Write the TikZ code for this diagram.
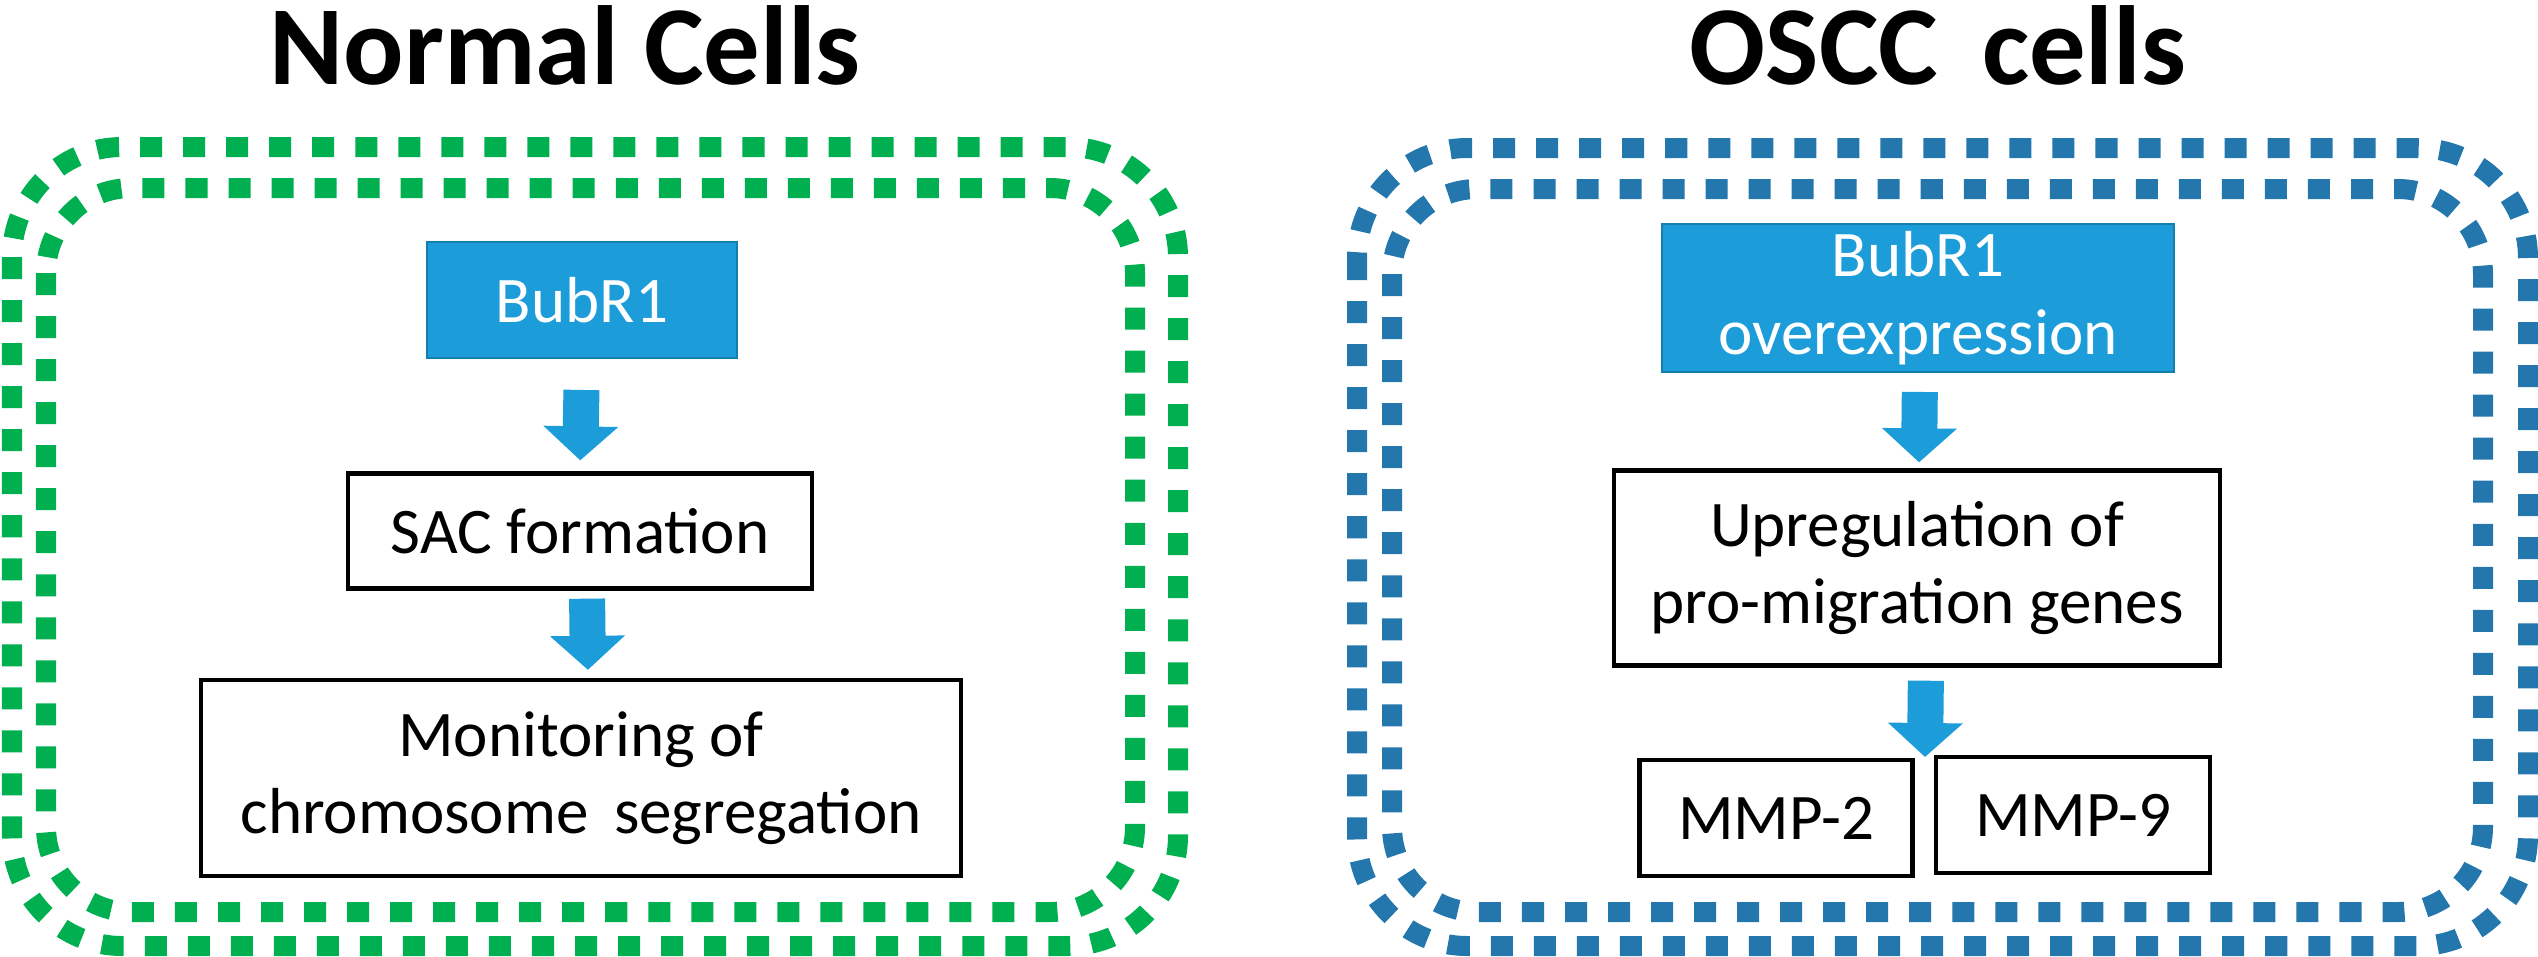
\documentclass[tikz,border=0pt]{standalone}
\usepackage{fontspec}
\setmainfont{Carlito}
\usetikzlibrary{arrows.meta}
\definecolor{cgreen}{HTML}{00B050}
\definecolor{cdash}{HTML}{2477AC}
\definecolor{cfill}{HTML}{1C9DD9}
\begin{document}
\begin{tikzpicture}[x=0.01cm,y=-0.01cm,
  membrane/.style={line width=0.2cm,dash pattern=on 0.22cm off 0.21cm},
  title/.style={font=\fontsize{32}{38}\selectfont\bfseries},
  bluebox/.style={fill=cfill,draw=cfill!80!black,line width=0.5pt,text=white,inner sep=0pt,align=center,font=\fontsize{18.5}{22}\selectfont},
  wbox/.style={draw=black,line width=1.2pt,fill=white,inner sep=0pt,align=center,font=\fontsize{18.5}{22}\selectfont},
  barrow/.style={draw=cfill,line width=0.36cm,-{Triangle[length=0.34cm,width=0.73cm]}}]
\useasboundingbox (0,0) rectangle (2538,956);
% membranes
\draw[membrane,cgreen,rounded corners=1.1cm] (12,147) rectangle (1178,946);
\draw[membrane,cgreen,rounded corners=0.85cm] (46,188) rectangle (1135,912);
\draw[membrane,cdash,rounded corners=1.1cm] (1357,148) rectangle (2528,946);
\draw[membrane,cdash,rounded corners=0.85cm] (1392,189) rectangle (2483,912);
% titles
\node[title] (t1) at (565,45) {Normal Cells};
\node[title] (t2) at (1938,45) {OSCC\, cells};
% left
\node[bluebox,minimum width=3.10cm,minimum height=1.16cm] (b1) at (582,300) {BubR1};
\node[wbox,minimum width=4.64cm,minimum height=1.15cm] (sac) at (580,531) {SAC formation};
\node[wbox,minimum width=7.60cm,minimum height=1.96cm] (mon) at (581,778) {Monitoring of\\chromosome\, segregation};
\draw[barrow,shorten <=0.31cm,shorten >=0.11cm] (b1.south) -- (sac.north);
\draw[barrow,shorten <=0.08cm,shorten >=0.08cm] ([xshift=0.07cm]sac.south) -- ([xshift=0.07cm]mon.north);
% right
\node[bluebox,minimum width=5.12cm,minimum height=1.48cm] (b2) at (1918,298) {BubR1\\overexpression};
\node[wbox,minimum width=6.06cm,minimum height=1.95cm] (up) at (1917,568) {Upregulation of\\pro-migration genes};
\node[wbox,minimum width=2.73cm,minimum height=1.16cm] (m2) at (1776,818) {MMP-2};
\node[wbox,minimum width=2.74cm,minimum height=1.16cm] (m9) at (2073,815) {MMP-9};
\coordinate (mm) at (1925,757);
\draw[barrow,shorten <=0.19cm,shorten >=0.06cm] ([xshift=0.02cm]b2.south) -- ([xshift=0.02cm]up.north);
\draw[barrow,shorten <=0.13cm] ([xshift=0.09cm]up.south) -- (mm);
\end{tikzpicture}
\end{document}
